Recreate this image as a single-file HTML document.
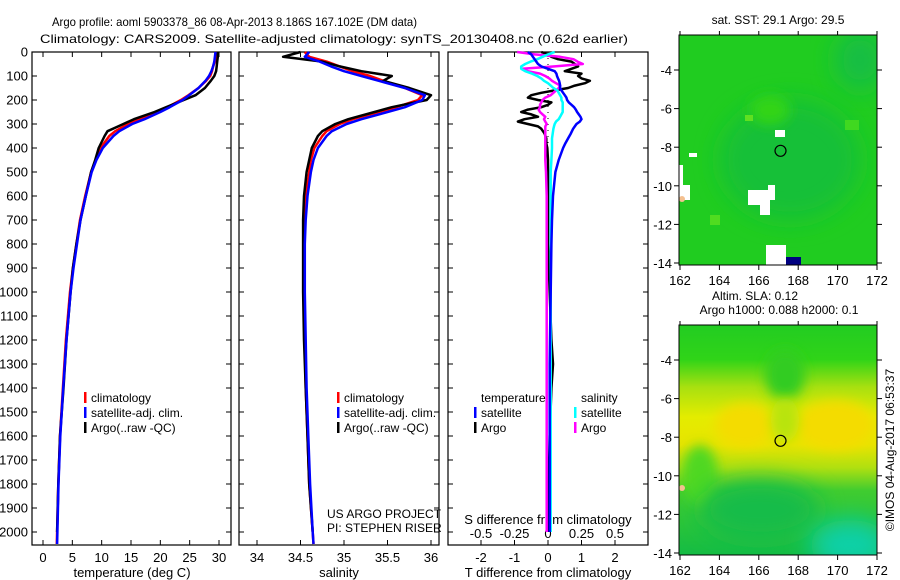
<!DOCTYPE html>
<html><head><meta charset="utf-8"><style>
html,body{margin:0;padding:0;background:#fff;}
svg{display:block;font-family:"Liberation Sans",sans-serif;}
</style></head><body>
<svg id="chart" width="900" height="580" viewBox="0 0 900 580" xmlns="http://www.w3.org/2000/svg">
<defs>
<filter id="blur6" x="-50%" y="-50%" width="200%" height="200%"><feGaussianBlur stdDeviation="6"/></filter>
<filter id="blur12" x="-50%" y="-50%" width="200%" height="200%"><feGaussianBlur stdDeviation="12"/></filter>
<clipPath id="clipM1"><rect x="679" y="35" width="198" height="230"/></clipPath>
<clipPath id="clipM2"><rect x="679" y="325" width="198" height="230"/></clipPath>
<linearGradient id="slaGrad" x1="0" y1="0" x2="0" y2="1">
<stop offset="0" stop-color="#22cc22"/><stop offset="0.15" stop-color="#30d418"/>
<stop offset="0.27" stop-color="#a8e010"/><stop offset="0.4" stop-color="#e4ec00"/>
<stop offset="0.52" stop-color="#e8e400"/><stop offset="0.62" stop-color="#b0e010"/>
<stop offset="0.72" stop-color="#40cc30"/><stop offset="1" stop-color="#14bc44"/>
</linearGradient>
</defs>
<text x="52" y="26" font-size="12" textLength="365" lengthAdjust="spacingAndGlyphs">Argo profile: aoml 5903378_86 08-Apr-2013 8.186S 167.102E (DM data)</text>
<text x="40" y="43" font-size="12" textLength="588" lengthAdjust="spacingAndGlyphs">Climatology: CARS2009. Satellite-adjusted climatology: synTS_20130408.nc (0.62d earlier)</text>
<g id="layer"></g>
</svg>
<script>
// ---- data ----
const depths=[0,20,40,60,80,100,120,150,180,200,230,250,280,300,330,350,400,450,500,600,700,800,900,1000,1200,1400,1600,1800,2000,2050];
const tClim=[29.6,29.5,29.3,29.0,28.8,28.5,27.8,26.5,24.8,23.5,21.2,19.5,16.5,14.5,12.3,11.3,9.8,9.0,8.2,7.2,6.3,5.7,5.1,4.6,3.9,3.4,2.9,2.6,2.4,2.35];
const tSat=[29.4,29.3,29.2,29.0,28.7,28.3,27.7,26.5,24.9,23.8,21.6,20.0,17.3,15.2,13.0,12.0,10.2,9.1,8.3,7.3,6.4,5.8,5.2,4.7,4.0,3.45,2.95,2.65,2.45,2.4];
const tArgo=[29.8,29.8,29.7,29.6,29.5,29.2,28.6,27.6,26.0,24.0,21.0,19.0,15.5,13.7,11.0,10.5,9.5,8.9,8.2,7.3,6.4,5.7,5.1,4.7,4.0,3.5,2.9,2.6,2.4,null];
const sClim=[34.55,34.6,34.8,34.95,35.1,35.3,35.45,35.7,35.9,35.85,35.6,35.4,35.1,34.95,34.8,34.75,34.66,34.62,34.6,34.56,34.54,34.54,34.54,34.54,34.55,34.56,34.58,34.6,34.64,34.65];
const sSat=[34.6,34.55,34.72,34.85,35.0,35.2,35.4,35.7,35.93,35.9,35.7,35.5,35.2,35.03,34.86,34.8,34.7,34.65,34.62,34.58,34.56,34.55,34.55,34.55,34.56,34.57,34.59,34.61,34.64,34.65];
const sArgo=[34.5,34.3,34.75,34.95,35.2,35.55,35.45,35.75,36.0,35.95,35.55,35.35,35.05,34.9,34.75,34.7,34.63,34.6,34.57,34.54,34.53,34.53,34.53,34.53,34.54,34.56,34.58,34.6,34.64,null];
const diffDepths=[0,10,20,30,40,50,60,70,80,90,100,110,120,130,140,150,160,170,180,190,200,210,220,230,240,250,260,270,280,290,300,310,320,340,360,380,400,450,500,600,700,800,1000,1200,1300,1400,1600,1800,2000];
const dTSat=[-0.6,-0.5,-0.45,-0.4,-0.35,-0.3,-0.2,0.0,0.2,0.25,0.27,0.3,0.33,0.35,0.36,0.36,0.4,0.45,0.5,0.55,0.57,0.62,0.7,0.78,0.83,0.87,0.92,0.97,1.0,0.95,0.85,0.8,0.75,0.68,0.6,0.52,0.45,0.32,0.22,0.15,0.12,0.1,0.08,0.06,0.05,0.05,0.05,0.05,0.05];
const dTArgo=[-0.2,0.0,0.1,0.3,0.7,0.8,0.9,0.7,0.5,1.0,0.9,1.0,1.25,1.1,0.8,0.6,0.2,-0.2,-0.5,-0.6,-0.3,0.1,0.0,-0.2,-0.6,-0.8,-0.5,-0.3,-0.7,-0.9,-0.6,-0.3,-0.2,-0.1,-0.05,-0.05,-0.02,0.0,0.0,0.0,0.0,0.0,0.05,0.1,0.15,0.1,0.05,0.02,0.0];
const dSSat=[0.05,0.0,-0.04,-0.08,-0.13,-0.17,-0.2,-0.2,-0.17,-0.12,-0.08,-0.05,-0.03,0.0,0.02,0.04,0.07,0.08,0.09,0.1,0.1,0.11,0.11,0.11,0.11,0.11,0.1,0.09,0.08,0.06,0.05,0.045,0.04,0.035,0.03,0.03,0.03,0.025,0.02,0.02,0.02,0.02,0.02,0.02,0.02,0.02,0.02,0.02,0.02];
const dSArgo=[-0.23,-0.1,0.09,0.19,0.22,0.26,0.05,-0.19,-0.15,-0.06,-0.02,0.01,0.03,0.06,0.09,0.08,0.06,0.04,0.02,-0.02,-0.04,-0.05,-0.06,-0.06,-0.07,-0.06,-0.04,-0.02,-0.03,-0.02,-0.01,-0.02,-0.02,-0.02,-0.02,-0.02,-0.02,-0.02,-0.015,-0.01,-0.01,-0.01,-0.01,-0.01,-0.01,-0.01,-0.01,-0.01,-0.01];
const depthTicks=[0,100,200,300,400,500,600,700,800,900,1000,1100,1200,1300,1400,1500,1600,1700,1800,1900,2000];
const tempTicks=[0,5,10,15,20,25,30];
const salTicks=[34,34.5,35,35.5,36];
const tDiffTicks=[-2,-1,0,1,2];
const sDiffTicks=[-0.5,-0.25,0,0.25,0.5];
const lonTicks=[162,164,166,168,170,172];
const latTicks=[-4,-6,-8,-10,-12,-14];
const argoLon=167.102, argoLat=-8.186;

// ---- helpers ----
const NS="http://www.w3.org/2000/svg";
const layer=document.getElementById('layer');
function mk(tag,attrs,parent){const e=document.createElementNS(NS,tag);for(const k in attrs)e.setAttribute(k,attrs[k]);(parent||layer).appendChild(e);return e;}
function txt(x,y,s,anchor,size,parent){const t=mk('text',{x:x,y:y,'font-size':size||12,'text-anchor':anchor||'start'},parent);t.textContent=s;return t;}
const yD=d=>52+d*0.24;
const xT=v=>43+v*(176/30);
const xS=v=>257+(v-34)*87;
const xTD=v=>548+v*33.5;
const xSD=v=>548+v*134;
const PT=52,PB=545;

function frame(x0,x1,name){
  const r=mk('rect',{x:x0,y:PT,width:x1-x0,height:PB-PT,fill:'none',stroke:'#000','stroke-width':1.2});
  
  
  depthTicks.forEach(d=>{const y=yD(d);mk('line',{x1:x0,y1:y,x2:x0+5,y2:y,stroke:'#000'});mk('line',{x1:x1-5,y1:y,x2:x1,y2:y,stroke:'#000'});});
}
function series(xf,vals,ds,color,name){
  let p='';vals.forEach((v,i)=>{if(v===null)return;p+=(p?'L':'M')+xf(v).toFixed(1)+','+yD(ds[i]).toFixed(1);});
  const e=mk('path',{d:p,fill:'none',stroke:color,'stroke-width':2.5,'stroke-linejoin':'round'});
  
  
}
function xticks(ticks,xf,x0,x1,ylab,fmt,name){
  const g=mk('g',{});
  
  
  ticks.forEach(v=>{const x=xf(v);mk('line',{x1:x,y1:PB,x2:x,y2:PB-5,stroke:'#000'},g);mk('line',{x1:x,y1:PT,x2:x,y2:PT+5,stroke:'#000'},g);if(ylab)txt(x,ylab,fmt?fmt(v):String(v),'middle',13,g);});
}
function legend(x,y,items,name){
  const g=mk('g',{});
  
  
  items.forEach((it,i)=>{const yy=y+i*15;if(it[1])mk('rect',{x:x,y:yy-10,width:2.5,height:11,fill:it[1]},g);txt(x+7,yy,it[0],'start',12,g);});
}

// ---- panel 1 temperature ----
frame(32,231,'temperature-panel');
const yl=mk('g',{});


depthTicks.forEach(d=>txt(28,yD(d)+4.5,String(d),'end',13,yl));
xticks(tempTicks,xT,32,231,562,null,'temperature-axis');
txt(132,577,'temperature (deg C)','middle',13);
series(xT,tClim,depths,'#ff0000','temp-climatology-line');
series(xT,tArgo,depths,'#000000','temp-argo-line');
series(xT,tSat,depths,'#0000ff','temp-satellite-line');
legend(84,402,[['climatology','#f00'],['satellite-adj. clim.','#00f'],['Argo(..raw -QC)','#000']],'temperature-legend');

// ---- panel 2 salinity ----
frame(239,439,'salinity-panel');
xticks(salTicks,xS,239,439,562,null,'salinity-axis');
txt(339,577,'salinity','middle',13);
series(xS,sClim,depths,'#ff0000','sal-climatology-line');
series(xS,sArgo,depths,'#000000','sal-argo-line');
series(xS,sSat,depths,'#0000ff','sal-satellite-line');
legend(337,402,[['climatology','#f00'],['satellite-adj. clim.','#00f'],['Argo(..raw -QC)','#000']],'salinity-legend');
txt(327,518,'US ARGO PROJECT','start',12);
txt(327,532,'PI: STEPHEN RISER','start',12);

// ---- panel 3 differences ----
frame(448,648,'difference-panel');
xticks(tDiffTicks,xTD,448,648,562,null,'t-difference-axis');
txt(548,577,'T difference from climatology','middle',13);
const sdl=mk('g',{});


sDiffTicks.forEach(v=>txt(xSD(v),538,String(v),'middle',13,sdl));
txt(548,524,'S difference from climatology','middle',13);
const zl=mk('line',{x1:548,y1:PT,x2:548,y2:yD(600),stroke:'#000','stroke-dasharray':'1,5'});


series(xTD,dTArgo,diffDepths,'#000000','tdiff-argo-line');
series(xSD,dSArgo,diffDepths,'#ff00ff','sdiff-argo-line');
series(xSD,dSSat,diffDepths,'#00ffff','sdiff-satellite-line');
series(xTD,dTSat,diffDepths,'#0000ff','tdiff-satellite-line');
legend(474,402,[['temperature',null],['satellite','#00f'],['Argo','#000']],'t-difference-legend');
legend(574,402,[['salinity',null],['satellite','#0ff'],['Argo','#f0f']],'s-difference-legend');

// ---- maps ----
const xLon=v=>680+(v-162)*19.7;
function mapAxes(top,yLat0,title,name){
  const yLat=v=>yLat0+(-4-v)*19.3;
  const g=mk('g',{});
  
  
  mk('rect',{x:679,y:top,width:198,height:230,fill:'none',stroke:'#000','stroke-width':1},g);
  lonTicks.forEach(v=>{const x=xLon(v);mk('line',{x1:x,y1:top+230,x2:x,y2:top+235,stroke:'#000'},g);mk('line',{x1:x,y1:top,x2:x,y2:top-4,stroke:'#000'},g);txt(x,top+250,String(v),'middle',13,g);});
  latTicks.forEach(v=>{const y=yLat(v);mk('line',{x1:674,y1:y,x2:679,y2:y,stroke:'#000'},g);mk('line',{x1:877,y1:y,x2:882,y2:y,stroke:'#000'},g);txt(672,y+5,String(v),'end',13,g);});
  const c=mk('circle',{cx:xLon(argoLon),cy:yLat(argoLat),r:5.5,fill:'none',stroke:'#000','stroke-width':1.2});
  
  
  return yLat;
}
// map 1 SST
const m1=mk('g',{'clip-path':'url(#clipM1)'});


mk('rect',{x:679,y:35,width:198,height:230,fill:'#20cc20'},m1);
mk('ellipse',{cx:790,cy:160,rx:70,ry:60,fill:'#18c038',filter:'url(#blur12)'},m1);
mk('ellipse',{cx:860,cy:60,rx:25,ry:30,fill:'#16be44',filter:'url(#blur12)'},m1);
mk('ellipse',{cx:770,cy:110,rx:20,ry:15,fill:'#30d418',filter:'url(#blur6)'},m1);
mk('rect',{x:745,y:115,width:8,height:6,fill:'#60e020'},m1);
mk('rect',{x:710,y:215,width:10,height:10,fill:'#50dc20'},m1);
mk('rect',{x:845,y:120,width:14,height:10,fill:'#40d820'},m1);
mk('rect',{x:775,y:130,width:10,height:7,fill:'#fff'},m1);
mk('polygon',{points:'679,165 683,165 683,185 690,185 690,200 679,200',fill:'#fff'},m1);
mk('polygon',{points:'748,190 768,190 768,185 775,185 775,200 770,200 770,215 760,215 760,205 748,205',fill:'#fff'},m1);
mk('rect',{x:689,y:153,width:8,height:4,fill:'#fff'},m1);
mk('polygon',{points:'766,245 786,245 786,265 766,265',fill:'#fff'},m1);
mk('rect',{x:786,y:257,width:15,height:8,fill:'#000080'},m1);
mk('circle',{cx:682,cy:199,r:3,fill:'#f4c090'},m1);
mapAxes(35,70,'sst','sst-map');
txt(778,24,'sat. SST: 29.1 Argo: 29.5','middle',12);
// map 2 SLA
const m2=mk('g',{'clip-path':'url(#clipM2)'});


mk('rect',{x:679,y:325,width:198,height:230,fill:'url(#slaGrad)'},m2);
mk('ellipse',{cx:745,cy:425,rx:30,ry:22,fill:'#f4dc00',filter:'url(#blur6)'},m2);
mk('ellipse',{cx:835,cy:425,rx:40,ry:25,fill:'#f4dc00',filter:'url(#blur6)'},m2);
mk('ellipse',{cx:785,cy:375,rx:20,ry:25,fill:'#30cc20',filter:'url(#blur6)'},m2);
mk('ellipse',{cx:785,cy:420,rx:14,ry:22,fill:'#b8e410',filter:'url(#blur6)'},m2);
mk('ellipse',{cx:700,cy:475,rx:18,ry:30,fill:'#50d820',filter:'url(#blur6)'},m2);
mk('ellipse',{cx:760,cy:510,rx:60,ry:30,fill:'#14bc48',filter:'url(#blur12)'},m2);
mk('ellipse',{cx:850,cy:545,rx:40,ry:25,fill:'#10d0a8',filter:'url(#blur12)'},m2);
mk('circle',{cx:682,cy:488,r:3,fill:'#f4c090'},m2);
mapAxes(325,360,'sla','sla-map');
txt(755,300,'Altim. SLA: 0.12','middle',12);
txt(779,314,'Argo h1000: 0.088 h2000: 0.1','middle',12);
const cr=txt(0,0,'©IMOS 04-Aug-2017 06:53:37','middle',12);
cr.setAttribute('transform','translate(894,450) rotate(-90)');

</script>
</body></html>
